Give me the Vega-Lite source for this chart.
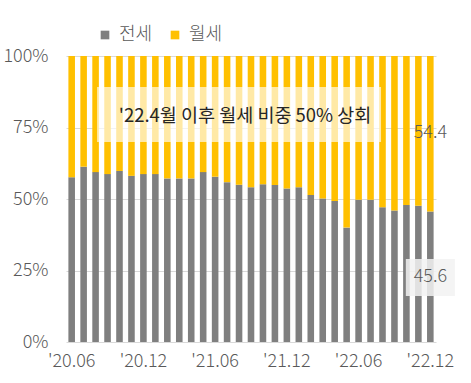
{
  "$schema": "https://vega.github.io/schema/vega-lite/v6.json",
  "width": 370,
  "height": 286,
  "autosize": "none",
  "padding": {"left": 66, "top": 56, "right": 35, "bottom": 41},
  "background": "white",
  "config": {
    "view": {"stroke": null},
    "font": "Noto Sans CJK KR",
    "axis": {"labelFont": "Noto Sans CJK KR", "labelColor": "#595959", "labelFontSize": 18, "labelFontWeight": 300},
    "legend": {"labelFont": "Noto Sans CJK KR", "labelColor": "#595959", "labelFontSize": 18, "labelFontWeight": 300}
  },
  "datasets": {
    "share": [
      {"m": "'20.06", "전세": 57.6, "월세": 42.4},
      {"m": "'20.07", "전세": 61.3, "월세": 38.7},
      {"m": "'20.08", "전세": 59.4, "월세": 40.6},
      {"m": "'20.09", "전세": 58.7, "월세": 41.3},
      {"m": "'20.10", "전세": 59.8, "월세": 40.2},
      {"m": "'20.11", "전세": 58.1, "월세": 41.9},
      {"m": "'20.12", "전세": 58.7, "월세": 41.3},
      {"m": "'21.01", "전세": 58.7, "월세": 41.3},
      {"m": "'21.02", "전세": 57.2, "월세": 42.8},
      {"m": "'21.03", "전세": 57.2, "월세": 42.8},
      {"m": "'21.04", "전세": 57.2, "월세": 42.8},
      {"m": "'21.05", "전세": 59.4, "월세": 40.6},
      {"m": "'21.06", "전세": 57.8, "월세": 42.2},
      {"m": "'21.07", "전세": 55.9, "월세": 44.1},
      {"m": "'21.08", "전세": 55.0, "월세": 45.0},
      {"m": "'21.09", "전세": 54.1, "월세": 45.9},
      {"m": "'21.10", "전세": 55.2, "월세": 44.8},
      {"m": "'21.11", "전세": 54.9, "월세": 45.1},
      {"m": "'21.12", "전세": 53.7, "월세": 46.3},
      {"m": "'22.01", "전세": 54.1, "월세": 45.9},
      {"m": "'22.02", "전세": 51.4, "월세": 48.6},
      {"m": "'22.03", "전세": 50.2, "월세": 49.8},
      {"m": "'22.04", "전세": 49.3, "월세": 50.7},
      {"m": "'22.05", "전세": 40.0, "월세": 60.0},
      {"m": "'22.06", "전세": 49.7, "월세": 50.3},
      {"m": "'22.07", "전세": 49.7, "월세": 50.3},
      {"m": "'22.08", "전세": 47.1, "월세": 52.9},
      {"m": "'22.09", "전세": 46.0, "월세": 54.0},
      {"m": "'22.10", "전세": 47.9, "월세": 52.1},
      {"m": "'22.11", "전세": 47.6, "월세": 52.4},
      {"m": "'22.12", "전세": 45.6, "월세": 54.4}
    ],
    "note": [
      {"m": "'21.08", "lo": 69.9, "hi": 89.2, "y": 78.9, "label": "'22.4월 이후 월세 비중 50% 상회"}
    ],
    "ends": [
      {"m": "'22.12", "y": 73.0, "label": "54.4", "lo": null, "hi": null},
      {"m": "'22.12", "y": 22.7, "label": "45.6", "lo": 16.1, "hi": 29.0}
    ]
  },
  "layer": [
    {
      "data": {"name": "share"},
      "transform": [{"fold": ["전세", "월세"], "as": ["type", "value"]}],
      "mark": {"type": "bar"},
      "encoding": {
        "x": {
          "field": "m", "type": "ordinal", "sort": null,
          "scale": {"paddingInner": 0.45, "paddingOuter": 0.2},
          "axis": {"title": null, "values": ["'20.06", "'20.12", "'21.06", "'21.12", "'22.06", "'22.12"], "labelAngle": 0, "ticks": false, "domain": false, "labelPadding": 10, "labelBaseline": "top"}
        },
        "y": {
          "field": "value", "type": "quantitative", "stack": "zero",
          "scale": {"domain": [0, 100]},
          "axis": {"title": null, "values": [0, 25, 50, 75, 100], "labelExpr": "datum.value + '%'", "domain": false, "ticks": false, "gridColor": "#D9D9D9", "gridWidth": 1.2, "labelPadding": 18}
        },
        "color": {
          "field": "type", "type": "nominal",
          "scale": {"domain": ["전세", "월세"], "range": ["#7F7F7F", "#FFC000"]},
          "legend": {"title": null, "orient": "none", "legendX": 30, "legendY": -30, "direction": "horizontal", "symbolType": "square", "symbolSize": 75, "symbolStrokeWidth": 0, "columnPadding": 13, "labelOffset": 5}
        },
        "order": {"field": "type", "sort": "descending"}
      }
    },
    {
      "data": {"name": "note"},
      "mark": {"type": "bar", "width": 284, "color": "white", "opacity": 0.65},
      "encoding": {
        "x": {"field": "m", "type": "ordinal"},
        "y": {"field": "lo", "type": "quantitative"},
        "y2": {"field": "hi"}
      }
    },
    {
      "data": {"name": "note"},
      "mark": {"type": "text", "fontSize": 18.5, "color": "#262626", "font": "Noto Sans CJK KR", "dx": 6},
      "encoding": {
        "x": {"field": "m", "type": "ordinal"},
        "y": {"field": "y", "type": "quantitative"},
        "text": {"field": "label"}
      }
    },
    {
      "data": {"name": "ends"},
      "transform": [{"filter": "datum.lo != null"}],
      "mark": {"type": "bar", "width": 49, "color": "#F2F2F2", "opacity": 0.85},
      "encoding": {
        "x": {"field": "m", "type": "ordinal"},
        "y": {"field": "lo", "type": "quantitative"},
        "y2": {"field": "hi"}
      }
    },
    {
      "data": {"name": "ends"},
      "mark": {"type": "text", "fontSize": 18, "color": "#595959", "font": "Noto Sans CJK KR", "fontWeight": 300},
      "encoding": {
        "x": {"field": "m", "type": "ordinal"},
        "y": {"field": "y", "type": "quantitative"},
        "text": {"field": "label"}
      }
    }
  ]
}
